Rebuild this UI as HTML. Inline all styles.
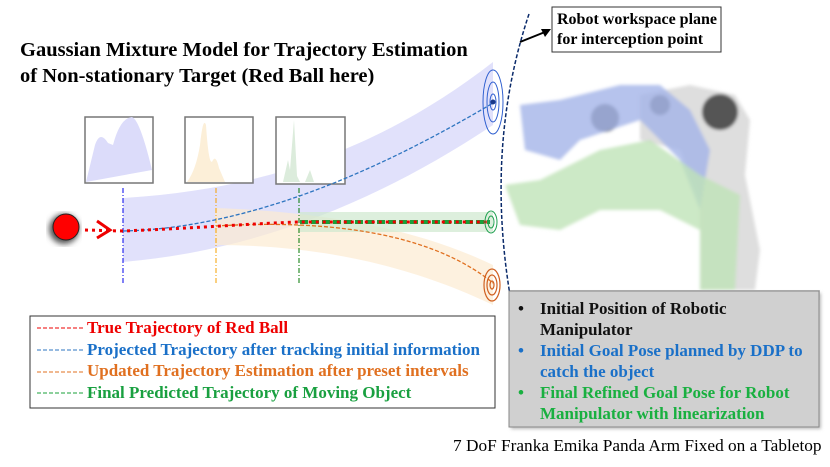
<!DOCTYPE html>
<html><head><style>
body{margin:0;background:#fff;}
.w{position:relative;width:830px;height:467px;overflow:hidden;font-family:"Liberation Serif",serif;}
.t{position:absolute;font-weight:bold;white-space:nowrap;}
</style></head><body><div class="w">
<svg width="830" height="467" style="position:absolute;left:0;top:0">
<defs><filter id="b"><feGaussianBlur stdDeviation="1.5"/></filter><filter id="s"><feGaussianBlur stdDeviation="3"/></filter></defs>
<path d="M123,198 C260,190 380,150 493,62 L493,125 C380,200 260,250 123,262 Z" fill="#dcdcfa" opacity="0.85"/>
<path d="M215,208 C330,212 420,230 493,265 L493,305 C420,270 330,245 215,245 Z" fill="#fcebd2" opacity="0.7"/>
<path d="M300,212 L493,212 L493,232 L300,232 Z" fill="#cfe8cf" opacity="0.7"/>
<g filter="url(#b)">
<path d="M640,95 L690,85 L735,95 L750,120 L745,175 L760,250 L755,290 L700,290 L700,200 L680,150 L640,140 Z" fill="#d8d8d8" opacity="0.85"/>
<circle cx="720" cy="112" r="18" fill="#555"/><circle cx="605" cy="118" r="14" fill="#666"/><circle cx="660" cy="105" r="10" fill="#666"/>
<path d="M520,105 L560,100 L620,85 L660,85 L690,110 L710,150 L700,210 L680,160 L640,120 L580,140 L560,160 L525,150 Z" fill="#a4b4e8" opacity="0.8"/>
<path d="M505,185 L540,180 L600,150 L650,140 L700,175 L740,195 L735,290 L700,290 L700,230 L660,210 L600,210 L560,230 L520,225 Z" fill="#bfe3b8" opacity="0.8"/>
</g>
<rect x="510" y="290" width="310" height="10" fill="#ccc"/>
<rect x="85" y="117" width="68" height="66" fill="#fff" stroke="#777" stroke-width="1.5"/>
<path d="M86,182 L95,145 Q100,130 108,143 L113,145 Q120,118 132,117 Q140,120 152,170 Z" fill="#dcdcfa"/>
<rect x="185" y="117" width="68" height="66" fill="#fff" stroke="#777" stroke-width="1.5"/>
<path d="M187,182 Q196,170 200,145 Q203,116 206,125 Q209,170 213,160 Q216,155 219,168 L225,182 Z" fill="#fcefd8"/>
<rect x="276" y="117" width="69" height="67" fill="#fff" stroke="#777" stroke-width="1.5"/>
<path d="M283,182 L288,160 L290,170 L294,120 L297,176 L300,182 Z M305,182 L310,170 L314,182 Z" fill="#dcecdc"/>
<line x1="123" y1="188" x2="123" y2="284" stroke="#0000ee" stroke-dasharray="5,2,1,2"/>
<line x1="216" y1="188" x2="216" y2="284" stroke="#f5a000" stroke-dasharray="5,2,1,2"/>
<line x1="299" y1="188" x2="299" y2="284" stroke="#007700" stroke-dasharray="5,2,1,2"/>
<path d="M123,231 C250,228 380,170 493,103" fill="none" stroke="#2e75c0" stroke-width="1.3" stroke-dasharray="4,2"/>
<path d="M216,226 C350,218 440,240 493,283" fill="none" stroke="#e07020" stroke-width="1.3" stroke-dasharray="4,2"/>
<path d="M300,222 L490,222" fill="none" stroke="#19a03a" stroke-width="4" stroke-dasharray="8,3"/>
<path d="M85,230 L123,231 C200,228 260,223 300,222 L490,222" fill="none" stroke="#ee0000" stroke-width="3" stroke-dasharray="3,4"/>
<path d="M97,221 L110,230 L97,238" fill="none" stroke="#ee0000" stroke-width="3"/>
<circle cx="64" cy="229" r="15" fill="#555" filter="url(#s)"/>
<circle cx="66" cy="227" r="13" fill="#ff0000" stroke="#222" stroke-width="1"/>
<path d="M529,14 Q480,160 517,332" fill="none" stroke="#0a2a6a" stroke-width="1.5" stroke-dasharray="4,2"/>
<g fill="none" stroke="#3060d0" stroke-width="1"><ellipse cx="493" cy="102" rx="10" ry="32"/><ellipse cx="493" cy="102" rx="6" ry="20"/><ellipse cx="493" cy="102" rx="3" ry="8"/></g>
<circle cx="493" cy="102" r="2.5" fill="#1a3a8a"/>
<g fill="none" stroke="#20a050" stroke-width="1"><ellipse cx="491" cy="222" rx="6" ry="11"/><ellipse cx="491" cy="222" rx="3" ry="6"/></g>
<g fill="none" stroke="#d06020" stroke-width="1.2"><ellipse cx="492" cy="285" rx="8" ry="16"/><ellipse cx="492" cy="285" rx="5" ry="10"/><ellipse cx="492" cy="285" rx="2" ry="4"/></g>
<line x1="520" y1="42" x2="545" y2="32" stroke="#000" stroke-width="2"/>
<polygon points="551,29 541,29 545,37" fill="#000"/>
<rect x="511" y="293" width="310" height="136" fill="#bbb" filter="url(#b)"/>
<rect x="509" y="291" width="310" height="136" fill="#d0d0d0" stroke="#888"/>
<rect x="30" y="316" width="465" height="92" fill="#fff" stroke="#333"/>
<line x1="37" y1="328" x2="84" y2="328" stroke="#ee0000" stroke-dasharray="4,2"/>
<line x1="37" y1="350" x2="84" y2="350" stroke="#2e75c0" stroke-dasharray="4,2"/>
<line x1="37" y1="372" x2="84" y2="372" stroke="#e07020" stroke-dasharray="4,2"/>
<line x1="37" y1="393" x2="84" y2="393" stroke="#19a03a" stroke-dasharray="4,2"/>
<rect x="552" y="7" width="169" height="45" fill="#fff" stroke="#333"/>
</svg>
<div class="t" style="left:557px;top:10px;font-size:16px;line-height:20px">Robot workspace plane<br>for interception point</div>
<div class="t" style="left:20px;top:37px;font-size:20.5px;line-height:26px">Gaussian Mixture Model for Trajectory Estimation<br>of Non-stationary Target (Red Ball here)</div>
<div class="t" style="left:87px;top:317px;font-size:17px;line-height:21.5px">
<div style="color:#ee0000">True Trajectory of Red Ball</div>
<div style="color:#1a70c8">Projected Trajectory after tracking initial information</div>
<div style="color:#e07020">Updated Trajectory Estimation after preset intervals</div>
<div style="color:#19a040">Final Predicted Trajectory of Moving Object</div></div>
<div class="t" style="left:518px;top:298px;font-size:17px;line-height:21px;width:300px">
<div style="color:#111;position:relative;padding-left:22px"><span style="position:absolute;left:0">•</span>Initial Position of Robotic<br>Manipulator</div>
<div style="color:#1a70c8;position:relative;padding-left:22px"><span style="position:absolute;left:0">•</span>Initial Goal Pose planned by DDP to<br>catch the object</div>
<div style="color:#19b040;position:relative;padding-left:22px"><span style="position:absolute;left:0">•</span>Final Refined Goal Pose for Robot<br>Manipulator with linearization</div></div>
<div style="position:absolute;left:453px;top:436px;font-size:17.3px;white-space:nowrap">7 DoF Franka Emika Panda Arm Fixed on a Tabletop</div>
</div></body></html>
